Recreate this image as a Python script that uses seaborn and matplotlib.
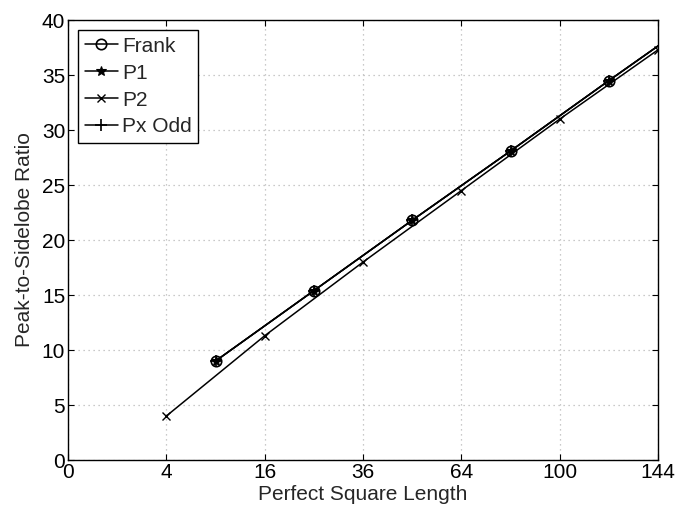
import numpy as np
import pandas as pd
import matplotlib
matplotlib.use("Agg")
import matplotlib.pyplot as plt
import seaborn as sns

# Data
odd_lengths = [9, 25, 49, 81, 121, 169]
frank_psr = [9.0, 15.4, 21.8, 28.1, 34.5, 40.8]
p1_psr = [9.0, 15.4, 21.8, 28.1, 34.5, 40.8]
pxodd_psr = [9.0, 15.4, 21.8, 28.1, 34.5, 40.8]
even_lengths = [4, 16, 36, 64, 100, 144]
p2_psr = [4.0, 11.3, 18.0, 24.5, 31.0, 37.3]
x_ticks = [0, 4, 16, 36, 64, 100, 144]
y_ticks = [0, 5, 10, 15, 20, 25, 30, 35, 40]

sns.set_theme(style="white")
plt.rcParams['font.family'] = ['Liberation Sans', 'DejaVu Sans']

fig = plt.figure(figsize=(6.82, 5.14), dpi=100)
ax = fig.add_axes([0.0997, 0.105, 0.8653, 0.856])
ax.set_xscale('function', functions=(lambda v: np.sqrt(np.clip(v, 0, None)), np.square))

series = [
    ("Frank", odd_lengths, frank_psr, dict(marker='o', markersize=7.5, markerfacecolor='none', markeredgecolor='black', markeredgewidth=1.2)),
    ("P1", odd_lengths, p1_psr, dict(marker='*', markersize=7.5, markerfacecolor='black', markeredgecolor='black', markeredgewidth=0.8)),
    ("P2", even_lengths, p2_psr, dict(marker='x', markersize=6, markeredgecolor='black', markeredgewidth=1.0)),
    ("Px Odd", odd_lengths, pxodd_psr, dict(marker='+', markersize=8, markeredgecolor='black', markeredgewidth=1.2)),
]
for name, xs, ys, kw in series:
    df = pd.DataFrame({"N": xs, "PSR": ys})
    sns.lineplot(data=df, x="N", y="PSR", ax=ax, color='black', linewidth=1.1,
                 label=name, **kw)

ax.set_xlim(0, 144)
ax.set_ylim(0, 40)
ax.set_xticks(x_ticks)
ax.set_xticklabels([str(t) for t in x_ticks])
ax.set_yticks(y_ticks)
ax.minorticks_off()
ax.grid(True, color='#b8b8b8', linestyle=(0, (1, 3)), linewidth=0.9)
ax.tick_params(direction='in', length=4, width=0.8, colors='black', labelsize=15,
               top=True, right=True, bottom=True, left=True)
ax.tick_params(axis='x', pad=2)
ax.tick_params(axis='y', pad=2)
for s in ax.spines.values():
    s.set_color('black')
    s.set_linewidth(1.0)
ax.set_xlabel("Perfect Square Length", fontsize=15, labelpad=2)
ax.set_ylabel("Peak-to-Sidelobe Ratio", fontsize=15, labelpad=6)

leg = ax.legend(loc='upper left', fontsize=15, frameon=True, fancybox=False,
                edgecolor='black', framealpha=1, handlelength=1.6, handletextpad=0.2,
                borderpad=0.3, labelspacing=0.38, borderaxespad=0.5)
leg.get_frame().set_linewidth(1.0)

fig.savefig("out.png", dpi=100)
